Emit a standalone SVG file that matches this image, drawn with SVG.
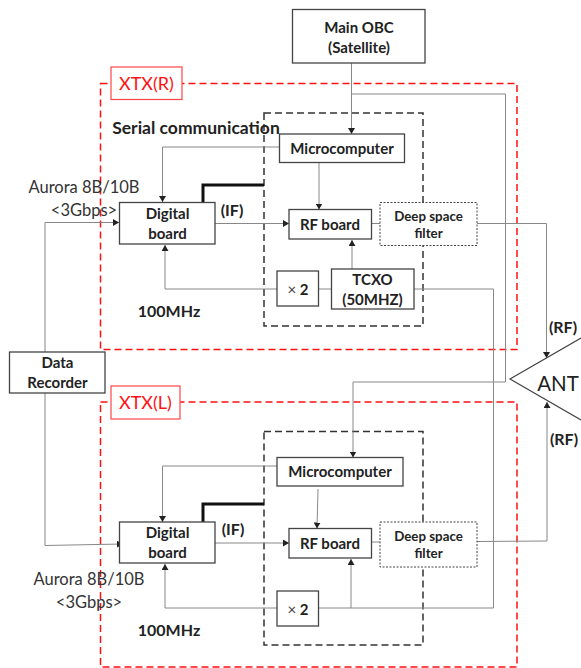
<svg xmlns="http://www.w3.org/2000/svg" width="581" height="668" viewBox="0 0 581 668">
<style>
text{font-family:Lato,"Open Sans",sans-serif;text-anchor:middle;fill:#222}
.b{font-weight:700;font-size:15px}
.s{font-size:13.3px;font-weight:700}
.m{font-size:16px;font-weight:700}
.ser{font-size:17.500px;font-weight:700}
.t{font-size:16.500px;fill:#333}
.x{font-weight:400;fill:#444}
.red{fill:none;stroke:#f11;stroke-width:1.500;stroke-dasharray:7 4}
.blk{fill:none;stroke:#333;stroke-width:1.500;stroke-dasharray:7 4}
.box{fill:#fff;stroke:#444;stroke-width:1.300}
.flt{fill:#fff;stroke:#444;stroke-width:1;stroke-dasharray:2 1.500}
.lab{fill:#fff;stroke:#f44;stroke-width:1.200}
.rt{font-size:18px;fill:#f11}
.c{fill:none;stroke:#888;stroke-width:1;marker-end:url(#a)}
.n{fill:none;stroke:#888;stroke-width:1}
.thick{fill:none;stroke:#111;stroke-width:3}
</style>
<defs><marker id="a" markerUnits="userSpaceOnUse" markerWidth="7" markerHeight="7" refX="6" refY="3.500" orient="auto"><path d="M0 0L6 3.500L0 7Z" fill="#222"/></marker></defs>
<g id="frames">
<rect class="red" x="100.500" y="83.500" width="416.500" height="266"/>
<rect class="red" x="100.500" y="402" width="416.500" height="265"/>
<rect class="blk" x="264" y="113" width="159" height="213"/>
<rect class="blk" x="264" y="431.500" width="159" height="213.500"/>
</g>
<g id="connectors">
<path class="c" d="M351.500 60V134"/>
<path class="n" d="M352 94H505.500V382H353"/>
<path class="c" d="M353 382V457.500"/>
<path class="c" d="M279.500 147H162.500V202"/>
<path class="c" d="M45 352V222.500H119"/>
<path class="c" d="M215 223.500H289"/>
<path class="c" d="M277 289H165V245"/>
<path class="c" d="M319 163V209.500"/>
<path class="c" d="M352 269V240"/>
<path class="n" d="M318.500 289H331.500M371.500 223.500H380"/>
<path class="c" d="M477 223.500H546.500V358"/>
<path class="n" d="M414 289H493.500V608H318.500"/>
<path class="c" d="M45 393V545.500L123 544"/>
<path class="c" d="M277 466H162.500V522"/>
<path class="c" d="M215 543H289"/>
<path class="c" d="M277 608H165V564"/>
<path class="c" d="M318 489L317 528.500"/>
<path class="c" d="M351 608V559"/>
<path class="n" d="M371.500 542H380"/>
<path class="c" d="M477 541.500L547 541V402"/>
<path class="thick" d="M203 202.500V185H264"/>
<path class="thick" d="M203 522V504H264"/>
</g>
<g id="main-obc"><rect class="box" x="292.500" y="9.500" width="132.500" height="53.500"/><text class="b" x="359" y="33">Main OBC</text><text class="b" x="359" y="53">(Satellite)</text></g>
<g id="xtx-r"><rect class="lab" x="111" y="67" width="71" height="32.500"/><text class="rt" x="146.500" y="90">XTX(R)</text></g>
<g id="xtx-l"><rect class="lab" x="111" y="386" width="69" height="33"/><text class="rt" x="145.500" y="409">XTX(L)</text></g>
<g id="serial-label"><text class="ser" x="196" y="134">Serial communication</text></g>
<g id="micro-r"><rect class="box" x="279.500" y="134" width="125" height="28.500"/><text class="b" x="342" y="154">Microcomputer</text></g>
<g id="digital-r"><rect class="box" x="119.500" y="202.500" width="95.500" height="41.500"/><text class="b" x="167.500" y="219">Digital</text><text class="b" x="167.500" y="239">board</text></g>
<g id="rf-r"><rect class="box" x="289" y="209.500" width="82.500" height="29.500"/><text class="b" x="330" y="230">RF board</text></g>
<g id="filter-r"><rect class="flt" x="380" y="202.500" width="97" height="43"/><text class="s" x="428.500" y="221">Deep space</text><text class="s" x="428.500" y="238">filter</text></g>
<g id="x2-r"><rect class="box" x="277" y="271" width="41.500" height="35"/><text class="b" x="298" y="295"><tspan class="x">×</tspan> 2</text></g>
<g id="tcxo"><rect class="box" x="331.500" y="269" width="82.500" height="40"/><text class="b" x="372.500" y="285">TCXO</text><text class="b" x="372.500" y="305">(50MHZ)</text></g>
<g id="data-recorder"><rect class="box" x="9.500" y="352" width="95.500" height="41"/><text class="b" x="57.500" y="368">Data</text><text class="b" x="57.500" y="388">Recorder</text></g>
<g id="micro-l"><rect class="box" x="277" y="457.500" width="126" height="28.500"/><text class="b" x="340" y="477">Microcomputer</text></g>
<g id="digital-l"><rect class="box" x="119.500" y="522" width="95.500" height="41"/><text class="b" x="167.500" y="538">Digital</text><text class="b" x="167.500" y="558">board</text></g>
<g id="rf-l"><rect class="box" x="289" y="528.500" width="82.500" height="29.500"/><text class="b" x="330" y="549">RF board</text></g>
<g id="filter-l"><rect class="flt" x="380" y="522" width="97" height="45"/><text class="s" x="428.500" y="541">Deep space</text><text class="s" x="428.500" y="558">filter</text></g>
<g id="x2-l"><rect class="box" x="277" y="591" width="41.500" height="35"/><text class="b" x="298" y="615"><tspan class="x">×</tspan> 2</text></g>
<g id="ant"><path d="M581 338L510 379L581 420" fill="#fff" stroke="#444" stroke-width="1.200"/><text x="558" y="391" style="font-size:20.500px">ANT</text></g>
<g id="labels">
<text class="t" x="84" y="193">Aurora 8B/10B</text>
<text class="t" x="84" y="216">&lt;3Gbps&gt;</text>
<text class="t" x="89" y="585">Aurora 8B/10B</text>
<text class="t" x="89" y="608">&lt;3Gbps&gt;</text>
<text class="m" x="232" y="216">(IF)</text>
<text class="m" x="233" y="535">(IF)</text>
<text class="m" x="169" y="317">100MHz</text>
<text class="m" x="169" y="636">100MHz</text>
<text class="m" x="563" y="333">(RF)</text>
<text class="m" x="564" y="445">(RF)</text>
</g>
</svg>
